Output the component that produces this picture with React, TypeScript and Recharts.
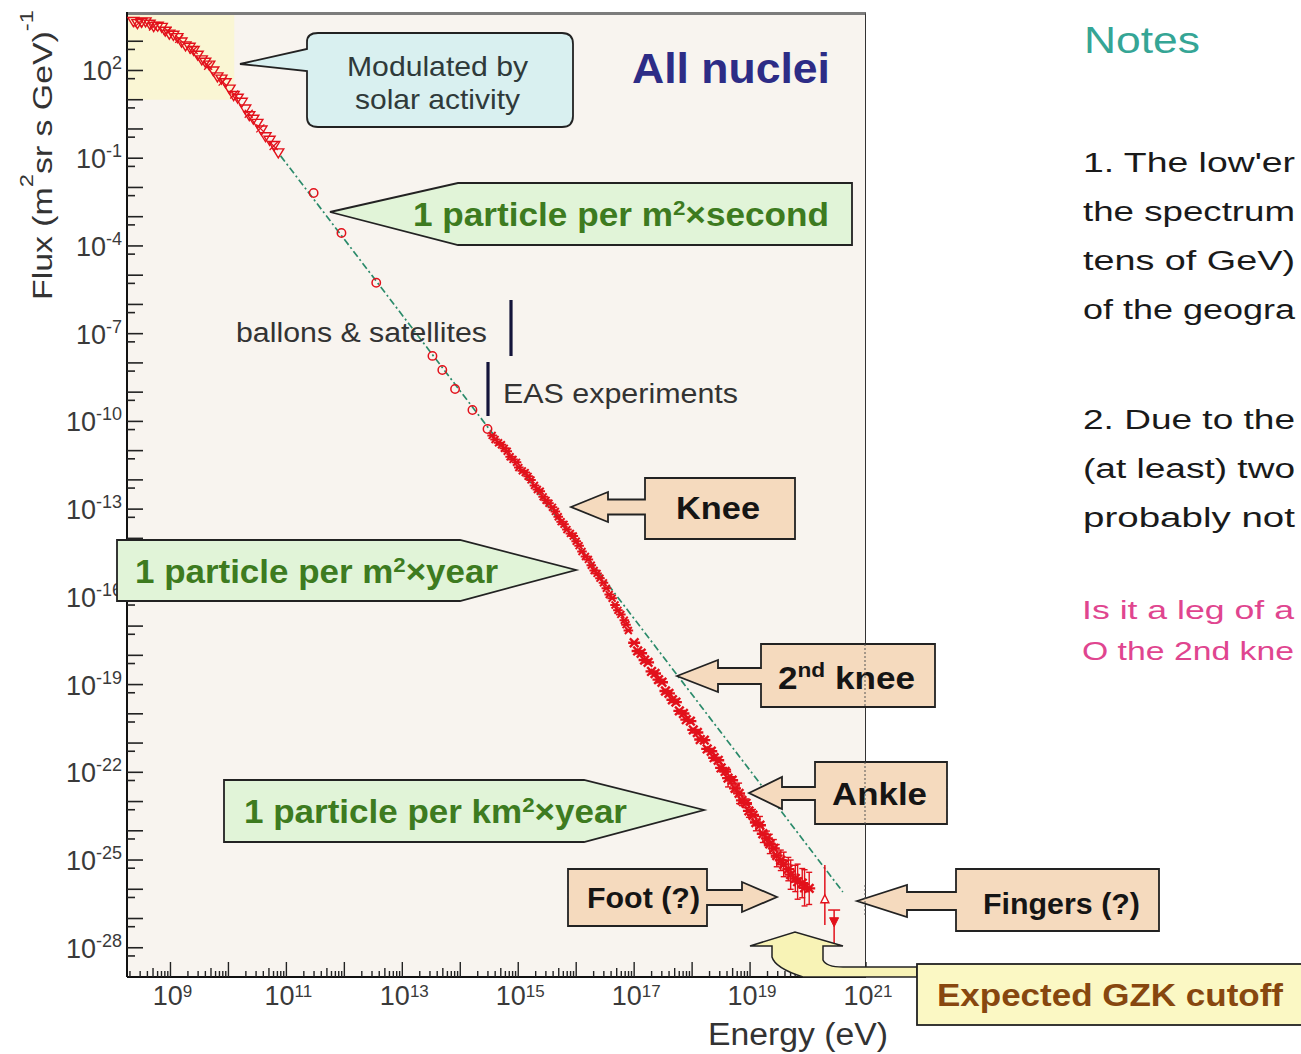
import React from "react";
import { ComposedChart, XAxis, YAxis, Scatter, Line, ErrorBar, ReferenceArea } from "recharts";

const FONT = '"Liberation Sans", Arial, Helvetica, sans-serif';
const RED = "#e2111b";

// every value is log10: energy in eV, flux in (m^2 sr s GeV)^-1
const LOW_TRI_E = [8.36, 8.5, 8.64, 8.78, 8.91, 9.05, 9.19, 9.33, 9.47, 9.6, 9.74, 9.88, 10.02, 10.16, 10.29, 10.43, 10.57, 10.71, 10.86];
const LOW_TRI_F = [3.69, 3.66, 3.6, 3.53, 3.36, 3.22, 2.99, 2.81, 2.54, 2.3, 2.0, 1.72, 1.38, 1.07, 0.7, 0.35, -0.02, -0.37, -0.8];
const LOW_TRI2_E = [8.43, 8.57, 8.71, 8.85, 8.98, 9.12, 9.26, 9.4, 9.54, 9.67, 9.81, 9.95, 10.09, 10.23, 10.36, 10.5, 10.64, 10.79];
const LOW_TRI2_F = [3.62, 3.68, 3.52, 3.49, 3.26, 3.14, 2.86, 2.7, 2.38, 2.2, 1.8, 1.6, 1.16, 0.93, 0.47, 0.21, -0.25, -0.55];
const LOW_X_E = [8.45, 8.7, 8.95, 9.15, 9.4, 9.65, 9.9, 10.1, 10.35, 10.55, 10.78];
const LOW_X_F = [3.62, 3.5, 3.35, 3.08, 2.7, 2.16, 1.62, 1.18, 0.52, 0.02, -0.58];
const SAT_E = [11.47, 11.95, 12.55, 13.52, 13.69, 13.91, 14.21, 14.47];
const SAT_F = [-2.19, -3.56, -5.26, -7.76, -8.24, -8.89, -9.61, -10.26];

const EAS1_E = [14.55, 14.66, 14.76, 14.86, 14.97, 15.07, 15.17, 15.28, 15.38, 15.48, 15.59, 15.69, 15.79, 15.9, 16.0, 16.1, 16.21, 16.31, 16.41, 16.52, 16.62, 16.72, 16.83, 16.9];
const EAS1_F = [-10.48, -10.73, -10.92, -11.21, -11.4, -11.69, -11.88, -12.19, -12.39, -12.7, -12.94, -13.26, -13.52, -13.83, -14.1, -14.45, -14.72, -15.1, -15.36, -15.71, -16.05, -16.46, -16.8, -17.15];
const EAS1B_E = [14.6, 14.71, 14.81, 14.91, 15.01, 15.12, 15.22, 15.33, 15.43, 15.53, 15.64, 15.74, 15.84, 15.95, 16.05, 16.16, 16.26, 16.36, 16.47, 16.57, 16.67, 16.77, 16.86];
const EAS1B_F = [-10.62, -10.8, -11.02, -11.3, -11.58, -11.75, -12.0, -12.33, -12.58, -12.8, -13.08, -13.43, -13.7, -13.92, -14.25, -14.62, -14.92, -15.2, -15.52, -15.92, -16.28, -16.6, -16.95];

const EAS2_E = [17.0, 17.12, 17.24, 17.36, 17.48, 17.6, 17.72, 17.85, 17.97, 18.09, 18.21, 18.33, 18.45, 18.57, 18.69, 18.81, 18.93, 19.05, 19.17, 19.29, 19.41, 19.53, 19.66, 19.78, 19.9, 20.02];
const EAS2_F = [-17.57, -17.93, -18.24, -18.62, -18.92, -19.3, -19.6, -19.99, -20.25, -20.64, -20.9, -21.28, -21.59, -21.97, -22.27, -22.72, -23.06, -23.47, -23.81, -24.26, -24.6, -25.01, -25.31, -25.63, -25.79, -25.97];
const EAS2_ERR = [0, 0, 0, 0, 0, 0, 0, 0, 0.05, 0.05, 0.06, 0.06, 0.08, 0.1, 0.12, 0.35, 0.15, 0.2, 0.3, 0.25, 0.3, 0.35, 0.4, 0.45, 0.5, 0.55];
const EAS2B_E = [17.06, 17.18, 17.3, 17.42, 17.54, 17.66, 17.78, 17.9, 18.02, 18.14, 18.26, 18.38, 18.5, 18.62, 18.74, 18.86, 18.98, 19.1, 19.22, 19.34, 19.46, 19.58, 19.7, 19.82, 19.94];
const EAS2B_F = [-17.85, -18.16, -18.55, -18.83, -19.22, -19.52, -19.9, -20.2, -20.55, -20.88, -21.2, -21.5, -21.85, -22.2, -22.55, -22.96, -23.32, -23.72, -24.1, -24.45, -24.85, -25.15, -25.5, -25.74, -25.95];
const EAS2B_ERR = [0, 0, 0, 0, 0, 0, 0, 0, 0, 0.05, 0.06, 0.08, 0.1, 0.3, 0.12, 0.18, 0.22, 0.28, 0.3, 0.33, 0.38, 0.42, 0.5, 0.6, 0.62];

const END_OPEN_E = [20.29];
const END_OPEN_F = [-26.36];
const END_OPEN_ERR = [[0.86, 1.19]];
const END_LIMIT_E = [20.45];
const END_LIMIT_F = [-27.11];
const END_LIMIT_ERR = [[0.8, 0.4]];

// E^-2.6 reference line
const GUIDE_E = [10.9, 20.6];
const GUIDE_F = [-0.92, -26.09];

const X_DECADES = [8, 9, 10, 11, 12, 13, 14, 15, 16, 17, 18, 19, 20, 21];
const X_LABELED = [9, 11, 13, 15, 17, 19, 21];
const X_MINOR = [0.301, 0.477, 0.602, 0.699, 0.778, 0.845, 0.903, 0.954];
const Y_DECADES = [-28, -27, -26, -25, -24, -23, -22, -21, -20, -19, -18, -17, -16, -15, -14, -13, -12, -11, -10, -9, -8, -7, -6, -5, -4, -3, -2, -1, 0, 1, 2, 3];
const Y_LABELED = [2, -1, -4, -7, -10, -13, -16, -19, -22, -25, -28];

const NOTES_1 = ["1. The low'er", "the spectrum", "tens of GeV)", "of the geogra"];
const NOTES_2 = ["2. Due to the", "(at least) two", "probably not"];
const NOTES_Q = ["Is it a leg of a", "O the 2nd kne"];

const pts = (es: number[], fs: number[], errs?: any[]) =>
  es.map((e, i) => ({ x: e, y: fs[i], err: errs ? errs[i] : 0 }));

const xTicks = X_DECADES.flatMap((d) => [d, ...X_MINOR.map((m) => +(d + m).toFixed(3))]).filter((v) => v >= 8.25 && v <= 21);
const yTicks = Y_DECADES.flatMap((d) => [d, +(d - 0.28).toFixed(2)]).filter((v) => v >= -29 && v <= 4);

function XTick({ x, y, payload }: any) {
  const v = payload.value;
  const frac = v - Math.floor(v + 1e-9);
  const major = frac < 1e-6;
  const len = major ? 15 : Math.abs(frac - 0.699) < 0.01 ? 9 : 6;
  const n = Math.round(v);
  return (
    <g>
      <line x1={x} x2={x} y1={y} y2={y - len} stroke="#222" strokeWidth={1.4} />
      {major && X_LABELED.includes(n) && (
        <text x={x + 2} y={y + 28} textAnchor="middle" fontFamily={FONT} fontSize={27} fill="#3a3a3a">
          10<tspan dy={-8} fontSize={17}>{n}</tspan>
        </text>
      )}
    </g>
  );
}

function YTick({ x, y, payload }: any) {
  const v = payload.value;
  const major = Math.abs(v - Math.round(v)) < 1e-6;
  const n = Math.round(v);
  return (
    <g>
      <line x1={x} x2={x + (major ? 16 : 8)} y1={y} y2={y} stroke="#222" strokeWidth={1.6} />
      {major && Y_LABELED.includes(n) && (
        <text x={x - 5} y={y + 10} textAnchor="end" fontFamily={FONT} fontSize={27} fill="#3a3a3a">
          10<tspan dy={-11} fontSize={18}>{n}</tspan>
        </text>
      )}
    </g>
  );
}

const TriDown = ({ cx, cy }: any) => (
  <path d={`M${cx - 5.5},${cy - 3.5} L${cx + 5.5},${cy - 3.5} L${cx},${cy + 5.5} Z`} fill="none" stroke={RED} strokeWidth={1.4} />
);
const Cross = ({ cx, cy }: any) => (
  <path d={`M${cx - 4},${cy - 4} L${cx + 4},${cy + 4} M${cx - 4},${cy + 4} L${cx + 4},${cy - 4}`} stroke={RED} strokeWidth={1.3} />
);
const Ring = ({ cx, cy }: any) => <circle cx={cx} cy={cy} r={4.2} fill="none" stroke={RED} strokeWidth={1.5} />;
const star = (size: number, w: number) => ({ cx, cy }: any) => (
  <path
    d={`M${cx - size},${cy} L${cx + size},${cy} M${cx - size * 0.72},${cy - size * 0.72} L${cx + size * 0.72},${cy + size * 0.72} M${cx - size * 0.72},${cy + size * 0.72} L${cx + size * 0.72},${cy - size * 0.72}`}
    stroke={RED}
    strokeWidth={w}
  />
);
const StarS = star(4.8, 2);
const StarL = star(6, 2.4);
const TriUp = ({ cx, cy }: any) => (
  <path d={`M${cx},${cy - 5} L${cx + 4},${cy + 3} L${cx - 4},${cy + 3} Z`} fill="#fff" stroke={RED} strokeWidth={1.4} />
);
const TriFill = ({ cx, cy }: any) => (
  <path d={`M${cx - 4.5},${cy - 4} L${cx + 4.5},${cy - 4} L${cx},${cy + 5} Z`} fill={RED} stroke={RED} strokeWidth={1} />
);

const TAN = "#f5dabe";
const GREEN_FILL = "#e1f4d8";
const GREEN_TEXT = "#3d7b20";
const LINE = "#222";

function Overlay() {
  const bold = { fontFamily: FONT, fontWeight: 700 } as const;
  const reg = { fontFamily: FONT } as const;
  return (
    <svg width={1301} height={1054} style={{ position: "absolute", left: 0, top: 0, pointerEvents: "none" }}>
      {/* axis titles */}
      <text transform="translate(52 300) rotate(-90)" {...reg} fontSize={27} fill="#333" textLength={290} lengthAdjust="spacingAndGlyphs">
        Flux (m<tspan dy={-19} fontSize={19}>2</tspan>
        <tspan dy={19}>sr s GeV)</tspan>
        <tspan dy={-19} fontSize={19}>-1</tspan>
      </text>
      <text x={708} y={1045} {...reg} fontSize={31} fill="#333" textLength={180} lengthAdjust="spacingAndGlyphs">
        Energy (eV)
      </text>

      {/* solar modulation */}
      <path
        d="M240,64 L307,49 L307,42 Q307,33 318,33 L562,33 Q573,33 573,44 L573,116 Q573,127 562,127 L318,127 Q307,127 307,117 L307,71 Z"
        fill="#d9f0f0"
        stroke={LINE}
        strokeWidth={1.8}
      />
      <text x={347} y={76} {...reg} fontSize={28} fill="#2f3a3a" textLength={181} lengthAdjust="spacingAndGlyphs">Modulated by</text>
      <text x={355} y={109} {...reg} fontSize={28} fill="#2f3a3a" textLength={165} lengthAdjust="spacingAndGlyphs">solar activity</text>

      <text x={632} y={83} {...bold} fontSize={43} fill="#2d2c86" textLength={198} lengthAdjust="spacingAndGlyphs">All nuclei</text>

      {/* 1 particle per m2 second */}
      <path d="M330,212 L458,183 L852,183 L852,245 L458,245 Z" fill={GREEN_FILL} stroke={LINE} strokeWidth={1.8} />
      <text x={413} y={226} {...bold} fontSize={33} fill={GREEN_TEXT} textLength={416} lengthAdjust="spacingAndGlyphs">
        1 particle per m<tspan dy={-11} fontSize={21}>2</tspan>
        <tspan dy={11}>×second</tspan>
      </text>

      {/* experiment ranges */}
      <text x={236} y={342} {...reg} fontSize={27} fill="#333" textLength={251} lengthAdjust="spacingAndGlyphs">ballons &amp; satellites</text>
      <line x1={511} x2={511} y1={300} y2={356} stroke="#14143a" strokeWidth={3.2} />
      <line x1={488} x2={488} y1={362} y2={416} stroke="#14143a" strokeWidth={3.2} />
      <text x={503} y={403} {...reg} fontSize={27} fill="#333" textLength={235} lengthAdjust="spacingAndGlyphs">EAS experiments</text>

      {/* knee */}
      <path
        d="M571,507 L608,492 L608,499.5 L645,499.5 L645,478 L795,478 L795,539 L645,539 L645,514.5 L608,514.5 L608,522 Z"
        fill={TAN}
        stroke={LINE}
        strokeWidth={1.8}
      />
      <text x={676} y={519} {...bold} fontSize={31} fill="#151515" textLength={84} lengthAdjust="spacingAndGlyphs">Knee</text>

      {/* 1 particle per m2 year */}
      <path d="M117,540 L460,540 L576,570 L460,601 L117,601 Z" fill={GREEN_FILL} stroke={LINE} strokeWidth={1.8} />
      <text x={135} y={583} {...bold} fontSize={33} fill={GREEN_TEXT} textLength={363} lengthAdjust="spacingAndGlyphs">
        1 particle per m<tspan dy={-11} fontSize={21}>2</tspan>
        <tspan dy={11}>×year</tspan>
      </text>

      {/* 2nd knee */}
      <path
        d="M677,676 L718,660 L718,668 L761,668 L761,644 L935,644 L935,707 L761,707 L761,684 L718,684 L718,692 Z"
        fill={TAN}
        stroke={LINE}
        strokeWidth={1.8}
      />
      <text x={778} y={689} {...bold} fontSize={31} fill="#151515" textLength={137} lengthAdjust="spacingAndGlyphs">
        2<tspan dy={-12} fontSize={20}>nd</tspan>
        <tspan dy={12}> knee</tspan>
      </text>

      {/* ankle */}
      <path
        d="M749,793 L782,777 L782,787 L815,787 L815,762 L947,762 L947,824 L815,824 L815,800 L782,800 L782,809 Z"
        fill={TAN}
        stroke={LINE}
        strokeWidth={1.8}
      />
      <text x={832} y={805} {...bold} fontSize={31} fill="#151515" textLength={95} lengthAdjust="spacingAndGlyphs">Ankle</text>

      {/* 1 particle per km2 year */}
      <path d="M224,780 L584,780 L704,810 L584,842 L224,842 Z" fill={GREEN_FILL} stroke={LINE} strokeWidth={1.8} />
      <text x={244} y={823} {...bold} fontSize={33} fill={GREEN_TEXT} textLength={383} lengthAdjust="spacingAndGlyphs">
        1 particle per km<tspan dy={-11} fontSize={21}>2</tspan>
        <tspan dy={11}>×year</tspan>
      </text>

      {/* foot */}
      <path
        d="M777,897 L742,882 L742,890 L707,890 L707,869 L568,869 L568,926 L707,926 L707,905 L742,905 L742,912 Z"
        fill={TAN}
        stroke={LINE}
        strokeWidth={1.8}
      />
      <text x={587} y={908} {...bold} fontSize={30} fill="#151515" textLength={113} lengthAdjust="spacingAndGlyphs">Foot (?)</text>

      {/* fingers */}
      <path
        d="M857,901 L907,885 L907,892 L956,892 L956,869 L1159,869 L1159,931 L956,931 L956,910 L907,910 L907,917 Z"
        fill={TAN}
        stroke={LINE}
        strokeWidth={1.8}
      />
      <text x={983} y={914} {...bold} fontSize={29} fill="#151515" textLength={157} lengthAdjust="spacingAndGlyphs">Fingers (?)</text>

      {/* plot border seen through the callouts */}
      <line x1={865} x2={865} y1={644} y2={707} stroke="#555" strokeWidth={1} strokeDasharray="2 2" />
      <line x1={865} x2={865} y1={762} y2={824} stroke="#555" strokeWidth={1} strokeDasharray="2 2" />
      <line x1={865} x2={865} y1={885} y2={917} stroke="#555" strokeWidth={1} strokeDasharray="2 2" />

      {/* GZK */}
      <path
        d="M750,946 L795,932 L843,946 L823,946 L823,960 Q826,967 843,967 L917,967 L917,977 L803,977 Q775,968 772,957 L772,946 Z"
        fill="#f8f3b6"
        stroke={LINE}
        strokeWidth={1.5}
      />
      <rect x={917} y={964} width={400} height={61} fill="#fbf8c4" stroke={LINE} strokeWidth={1.8} />
      <text x={937} y={1006} {...bold} fontSize={31} fill="#87470f" textLength={346} lengthAdjust="spacingAndGlyphs">Expected GZK cutoff</text>

      {/* notes column, as far as the page shows it */}
      <text x={1084} y={53} {...reg} fontSize={36} fill="#35a595" textLength={116} lengthAdjust="spacingAndGlyphs">Notes</text>
      {NOTES_1.map((t, i) => (
        <text key={t} x={1083} y={172 + i * 49} {...reg} fontSize={27} fill="#1a1a1a" textLength={212} lengthAdjust="spacingAndGlyphs">{t}</text>
      ))}
      {NOTES_2.map((t, i) => (
        <text key={t} x={1083} y={429 + i * 49} {...reg} fontSize={27} fill="#1a1a1a" textLength={212} lengthAdjust="spacingAndGlyphs">{t}</text>
      ))}
      {NOTES_Q.map((t, i) => (
        <text key={t} x={1082} y={619 + i * 41} {...reg} fontSize={25} fill="#e0458f" textLength={212} lengthAdjust="spacingAndGlyphs">{t}</text>
      ))}
    </svg>
  );
}

export default function App() {
  return (
    <div style={{ position: "absolute", left: 0, top: 0, width: 1301, height: 1054, overflow: "hidden", background: "#fff" }}>
      <div
        style={{
          position: "absolute",
          left: 127,
          top: 12,
          width: 739,
          height: 965,
          boxSizing: "border-box",
          background: "#f8f4ef",
          borderTop: "3px solid #7c7c7c",
          borderRight: "1.5px solid #333",
        }}
      />
      <div style={{ position: "absolute", left: 0, top: 0 }}>
        <ComposedChart width={1301} height={1054} margin={{ top: 12, right: 435, bottom: 37, left: 67 }}>
          <XAxis
            type="number"
            dataKey="x"
            domain={[8.25, 21]}
            allowDataOverflow
            ticks={xTicks}
            interval={0}
            height={40}
            tickSize={0}
            tickMargin={0}
            tickLine={false}
            tick={(p: any) => <XTick {...p} />}
            axisLine={{ stroke: "#111", strokeWidth: 2 }}
          />
          <YAxis
            type="number"
            dataKey="y"
            domain={[-29, 4]}
            allowDataOverflow
            ticks={yTicks}
            interval={0}
            width={60}
            tickSize={0}
            tickMargin={0}
            tickLine={false}
            tick={(p: any) => <YTick {...p} />}
            axisLine={{ stroke: "#111", strokeWidth: 2 }}
          />
          <ReferenceArea x1={8.25} x2={10.1} y1={1.0} y2={3.9} fill="#faf6d4" fillOpacity={1} stroke="none" />
          <Line
            data={pts(GUIDE_E, GUIDE_F)}
            dataKey="y"
            stroke="#2a8a6a"
            strokeWidth={1.7}
            strokeDasharray="7 3 2 3"
            dot={false}
            activeDot={false}
            isAnimationActive={false}
          />
          <Scatter data={pts(LOW_TRI_E, LOW_TRI_F)} dataKey="y" shape={(p: any) => <TriDown {...p} />} isAnimationActive={false} />
          <Scatter data={pts(LOW_TRI2_E, LOW_TRI2_F)} dataKey="y" shape={(p: any) => <TriDown {...p} />} isAnimationActive={false} />
          <Scatter data={pts(LOW_X_E, LOW_X_F)} dataKey="y" shape={(p: any) => <Cross {...p} />} isAnimationActive={false} />
          <Scatter data={pts(SAT_E, SAT_F)} dataKey="y" shape={(p: any) => <Ring {...p} />} isAnimationActive={false} />
          <Scatter data={pts(EAS1_E, EAS1_F)} dataKey="y" shape={(p: any) => <StarS {...p} />} isAnimationActive={false} />
          <Scatter data={pts(EAS1B_E, EAS1B_F)} dataKey="y" shape={(p: any) => <StarS {...p} />} isAnimationActive={false} />
          <Scatter data={pts(EAS2_E, EAS2_F, EAS2_ERR)} dataKey="y" shape={(p: any) => <StarL {...p} />} isAnimationActive={false}>
            <ErrorBar dataKey="err" direction="y" width={3} stroke={RED} strokeWidth={1.4} />
          </Scatter>
          <Scatter data={pts(EAS2B_E, EAS2B_F, EAS2B_ERR)} dataKey="y" shape={(p: any) => <StarL {...p} />} isAnimationActive={false}>
            <ErrorBar dataKey="err" direction="y" width={3} stroke={RED} strokeWidth={1.4} />
          </Scatter>
          <Scatter data={pts(END_OPEN_E, END_OPEN_F, END_OPEN_ERR)} dataKey="y" shape={(p: any) => <TriUp {...p} />} isAnimationActive={false}>
            <ErrorBar dataKey="err" direction="y" width={0} stroke={RED} strokeWidth={1.5} />
          </Scatter>
          <Scatter data={pts(END_LIMIT_E, END_LIMIT_F, END_LIMIT_ERR)} dataKey="y" shape={(p: any) => <TriFill {...p} />} isAnimationActive={false}>
            <ErrorBar dataKey="err" direction="y" width={6} stroke={RED} strokeWidth={1.5} />
          </Scatter>
        </ComposedChart>
      </div>
      <Overlay />
    </div>
  );
}
